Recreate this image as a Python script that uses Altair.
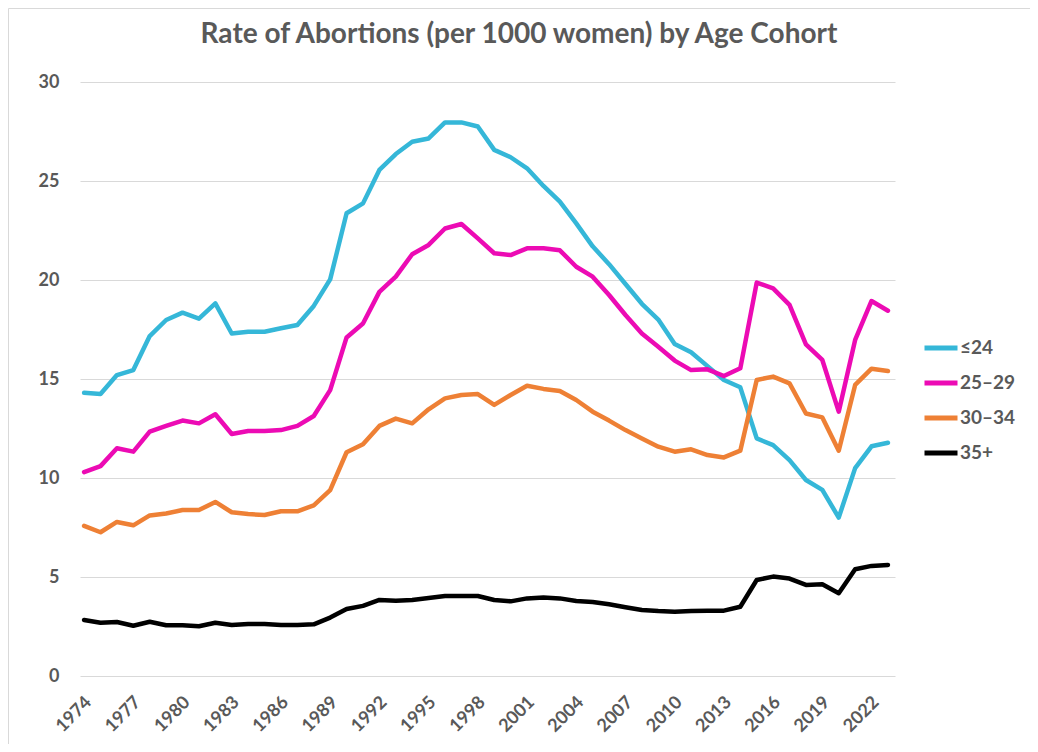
import altair as alt
import pandas as pd

years = list(range(1974, 2024))
cohorts = ["≤24", "25–29", "30–34", "35+"]
colors = ["#35B7D8", "#EC0BB4", "#EE8035", "#000000"]

under24 = [14.3, 14.24, 15.2, 15.45, 17.17, 17.98, 18.35, 18.05, 18.82, 17.3,
           17.39, 17.39, 17.56, 17.73, 18.69, 20.03, 23.37, 23.87, 25.56, 26.36,
           26.98, 27.15, 27.96, 27.96, 27.75, 26.57, 26.2, 25.64, 24.75, 23.96,
           22.86, 21.7, 20.8, 19.8, 18.8, 18.0, 16.77, 16.35, 15.65, 14.95,
           14.58, 12.0, 11.66, 10.9, 9.9, 9.4, 8.0, 10.5, 11.6, 11.78]
age25_29 = [10.3, 10.6, 11.5, 11.33, 12.34, 12.63, 12.9, 12.76, 13.22, 12.22,
            12.37, 12.37, 12.42, 12.63, 13.13, 14.44, 17.1, 17.8, 19.4, 20.17,
            21.3, 21.77, 22.6, 22.83, 22.1, 21.35, 21.26, 21.6, 21.6, 21.5,
            20.67, 20.17, 19.24, 18.23, 17.3, 16.63, 15.93, 15.45, 15.49, 15.15,
            15.54, 19.87, 19.58, 18.74, 16.75, 15.96, 13.35, 16.97, 18.94, 18.45]
age30_34 = [7.58, 7.26, 7.78, 7.61, 8.11, 8.21, 8.38, 8.38, 8.79, 8.27,
            8.18, 8.13, 8.32, 8.32, 8.62, 9.39, 11.3, 11.7, 12.63, 13.0,
            12.76, 13.47, 14.02, 14.19, 14.24, 13.69, 14.19, 14.66, 14.5, 14.39,
            13.94, 13.35, 12.9, 12.42, 12.0, 11.58, 11.33, 11.45, 11.16, 11.04,
            11.38, 14.95, 15.12, 14.78, 13.26, 13.06, 11.38, 14.7, 15.52, 15.4]
age35plus = [2.83, 2.69, 2.73, 2.54, 2.74, 2.56, 2.56, 2.51, 2.69, 2.58,
             2.63, 2.63, 2.58, 2.58, 2.61, 2.95, 3.38, 3.54, 3.84, 3.8,
             3.84, 3.94, 4.04, 4.04, 4.04, 3.84, 3.77, 3.92, 3.97, 3.92,
             3.79, 3.74, 3.62, 3.47, 3.33, 3.28, 3.25, 3.28, 3.3, 3.3,
             3.5, 4.85, 5.02, 4.92, 4.6, 4.63, 4.18, 5.39, 5.56, 5.61]

x_ticks = list(range(1974, 2023, 3))
y_ticks = [0, 5, 10, 15, 20, 25, 30]
title_text = "Rate of Abortions (per 1000 women) by Age Cohort"

series = [under24, age25_29, age30_34, age35plus]
rows = []
for name, vals in zip(cohorts, series):
    for yr, v in zip(years, vals):
        rows.append({"Year": yr, "Cohort": name, "Rate": v})
df = pd.DataFrame(rows)

FONT = "Lato"
GRAY = "#595959"

border = alt.Chart(pd.DataFrame({"a": [0]})).mark_rect(
    fill=None, stroke="#D9D9D9", strokeWidth=1
).encode(
    x=alt.value(-71.5), x2=alt.value(951.5),
    y=alt.value(-73.5), y2=alt.value(667.5)
)

title = alt.Chart(pd.DataFrame({"t": [title_text]})).mark_text(
    font=FONT, fontSize=28, fontWeight="bold", color=GRAY,
    align="center", baseline="alphabetic"
).encode(
    text="t:N", x=alt.value(439), y=alt.value(-39)
)

lines = alt.Chart(df).mark_line(
    strokeWidth=4.5, strokeCap="round", strokeJoin="round"
).encode(
    x=alt.X("Year:Q",
            scale=alt.Scale(domain=[1973.75, 2023.43], nice=False, zero=False),
            axis=alt.Axis(values=x_ticks, format="d", labelAngle=-45,
                          grid=False, domain=False, ticks=False,
                          labelFont=FONT, labelFontSize=18, labelFontWeight="bold",
                          labelColor=GRAY, labelPadding=17, labelOffset=-2,
                          title=None, labelOverlap=False)),
    y=alt.Y("Rate:Q",
            scale=alt.Scale(domain=[0, 30], nice=False),
            axis=alt.Axis(values=y_ticks, grid=True, gridColor="#D9D9D9",
                          gridWidth=1, domain=False, ticks=False,
                          labelFont=FONT, labelFontSize=18, labelFontWeight="bold",
                          labelColor=GRAY, labelPadding=21, title=None)),
    color=alt.Color("Cohort:N",
                    scale=alt.Scale(domain=cohorts, range=colors),
                    sort=cohorts,
                    legend=alt.Legend(orient="none", legendX=842, legendY=247,
                                      title=None, symbolType="stroke",
                                      symbolSize=1089, symbolStrokeWidth=5,
                                      labelFont=FONT, labelFontSize=19,
                                      labelFontWeight="bold", labelColor=GRAY,
                                      labelOffset=0, rowPadding=6, padding=0)),
    order=alt.Order("Year:Q")
)

chart = alt.layer(border, title, lines).properties(
    width=815, height=594,
    padding={"left": 72, "top": 74, "right": 135, "bottom": 68},
    autosize=alt.AutoSizeParams(type="none")
).configure_view(stroke=None)

chart.save("out.html", embed_options={"renderer": "svg", "actions": False})
